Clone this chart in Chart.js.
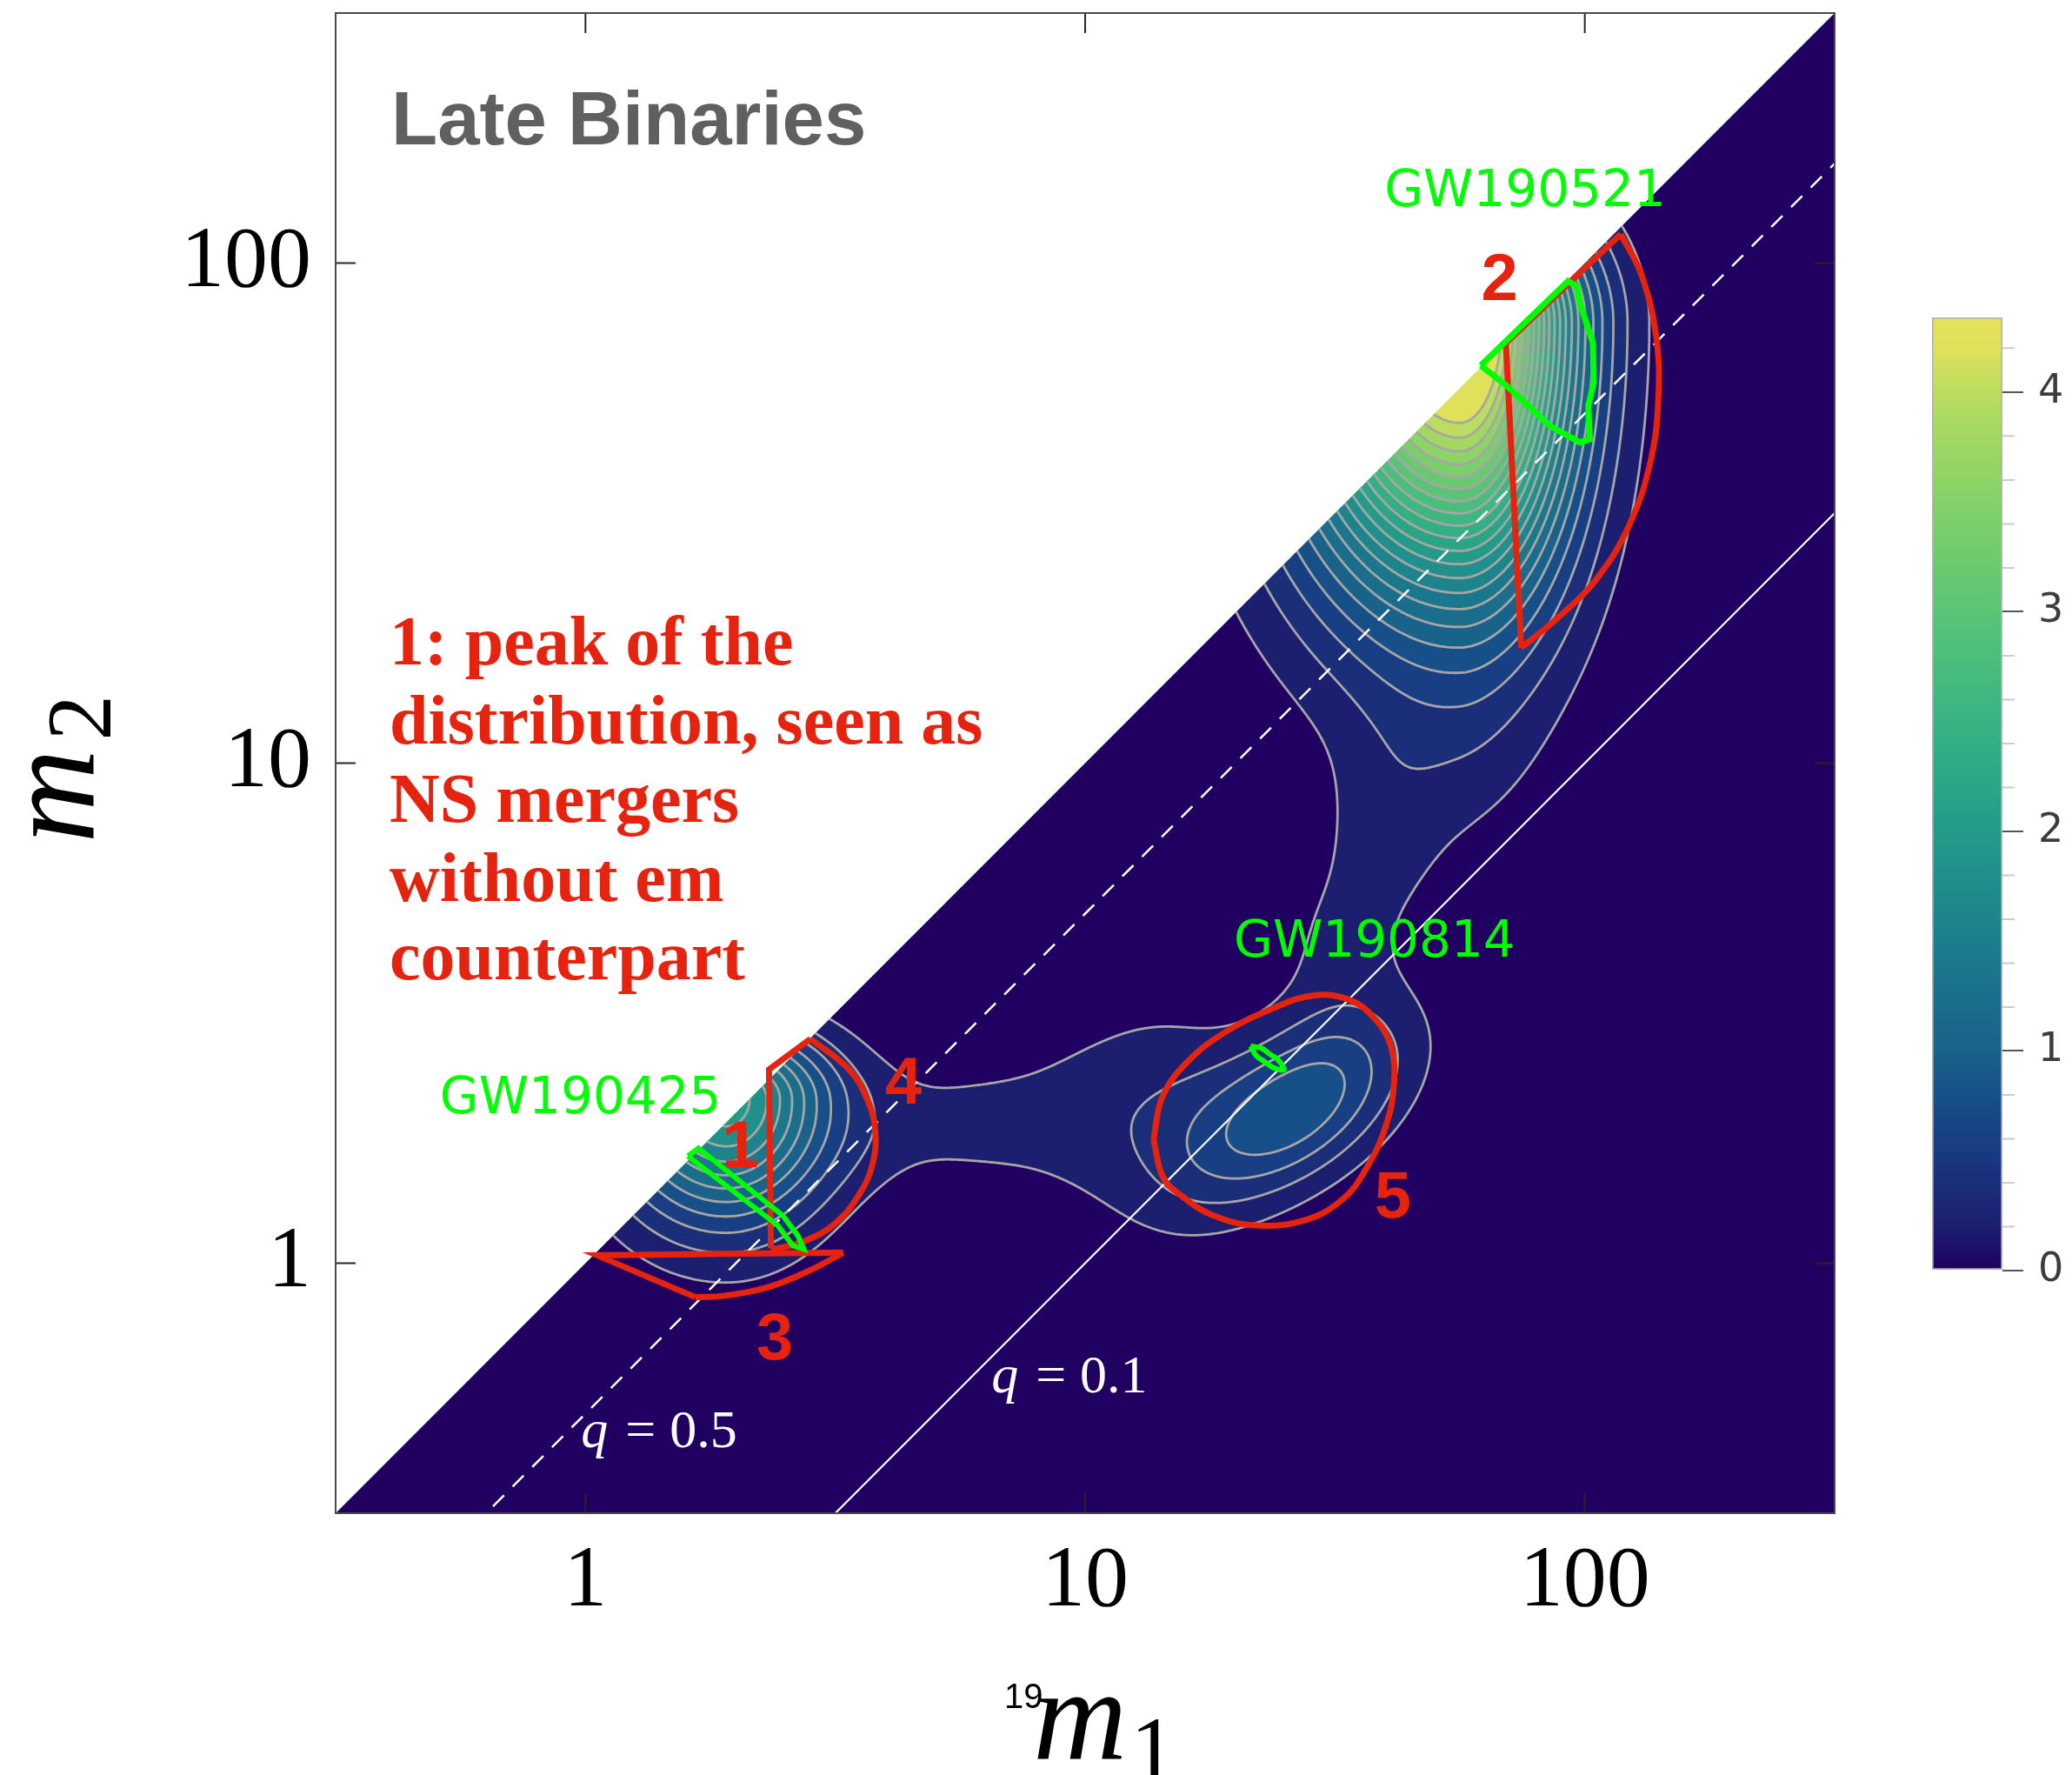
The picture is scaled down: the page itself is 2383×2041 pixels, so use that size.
<!DOCTYPE html>
<html>
<head>
<meta charset="utf-8">
<script src="https://cdn.jsdelivr.net/npm/chart.js@4.4.1/dist/chart.umd.min.js"></script>
<style>
  html, body { margin: 0; padding: 0; background: #ffffff; }
  #wrap { position: relative; width: 2383px; height: 2041px; }
  #main { position: absolute; left: 0; top: 0; width: 2383px; height: 2041px; }
  #cbar { position: absolute; left: 2150px; top: 330px; width: 233px; height: 1170px; }
</style>
</head>
<body>
<div id="wrap">
  <canvas id="main" width="2383" height="2041"></canvas>
  <canvas id="cbar" width="233" height="1170"></canvas>
</div>
<script>
// ---------------- axes (solar masses) ----------------
const massMin = 0.3162;
const massMax = 316.2;
const tickMasses = [1, 10, 100];

// ---------------- density colour scale ----------------
const contourLevels = [0.2, 0.4, 0.6, 0.8, 1.0, 1.2, 1.4, 1.6, 1.8, 2.0, 2.2, 2.4, 2.6, 2.8, 3.0, 3.2, 3.4, 3.6, 3.8, 4.0, 4.2];
const colorbarMax = 4.34;
const colorbarValues = [0, 0.2, 0.4, 0.6, 0.8, 1.0, 1.2, 1.4, 1.6, 1.8, 2.0, 2.2, 2.4, 2.6, 2.8, 3.0, 3.2, 3.4, 3.6, 3.8, 4.0, 4.2, 4.34];
const colorbarColors = ['#200060', '#1c1e70', '#1a2e7a', '#183f83', '#175088', '#19628a', '#1a6d8b', '#1b788c',
  '#1d848c', '#1f908b', '#239b89', '#2aa687', '#33af84', '#3eb780', '#4bbe7b', '#5ac476', '#6ac970', '#7bcf6b',
  '#8dd466', '#a2d862', '#bcdd5f', '#dfe15b', '#e6e35a'];
const colorbarTicks = [0, 1, 2, 3, 4];
const colorbarMinorTicks = [0.2, 0.4, 0.6, 0.8, 1.2, 1.4, 1.6, 1.8, 2.2, 2.4, 2.6, 2.8, 3.2, 3.4, 3.6, 3.8, 4.2];

// ---------------- population density ----------------
// main peaks: skewed bumps in (log m1, log m2), widths in dex
const peakHeight      = [4.9, 2.1];
const peakM1          = [56.2, 1.905];
const peakM2          = [75.9, 2.138];
const peakWidthM1Low  = [0.229, 0.155];
const peakWidthM1High = [0.150, 0.140];
const peakWidthM2Low  = [0.360, 0.170];
const peakWidthM2High = [0.148, 0.098];

// tilted bump around the mass-gap events
const tiltHeight   = [0.95];
const tiltM1       = [26.3];
const tiltM2       = [2.04];
const tiltWidthM1  = [0.15];
const tiltWidthM2  = [0.125];
const tiltCorr     = [0.5];

// low ridge joining the peaks
const ridgeM1      = [3.55, 6.03, 10.0, 15.1, 31.6, 39.8, 52.5];
const ridgeM2      = [1.86, 1.905, 1.95, 2.04, 4.17, 7.08, 10.0];
const ridgeHeight  = [0.15, 0.20, 0.20, 0.25, 0.20, 0.17, 0.12];
const ridgeWidthM1 = [0.12, 0.12, 0.12, 0.12, 0.10, 0.085, 0.12];
const ridgeWidthM2 = [0.10, 0.095, 0.14, 0.17, 0.14, 0.14, 0.15];

// ---------------- event credible regions ----------------
const gw190521M1 = [61.9, 92.5, 96.4, 97.7, 103.8, 104.2, 101.6, 102.3, 97.7, 85.3, 69.8, 61.9];
const gw190521M2 = [62.4, 92.0, 89.9, 83.2, 69.3, 57.7, 51.8, 44.4, 43.8, 47.2, 56.8, 62.4];
const gw190425M1 = [1.603, 1.683, 2.483, 2.661, 2.735, 2.600, 2.427, 1.603];
const gw190425M2 = [1.637, 1.698, 1.245, 1.135, 1.067, 1.084, 1.189, 1.637];
const gw190814M1 = [21.43, 22.54, 23.43, 24.35, 25.00, 23.77, 22.87, 22.00, 21.43];
const gw190814M2 = [2.716, 2.690, 2.618, 2.548, 2.438, 2.462, 2.530, 2.600, 2.716];

// numbered regions (straight edges and curved edges)
const region2EdgeM1 = [74.6, 69.5, 118.0];
const region2EdgeM2 = [17.0, 69.2, 114.3];
const region2ArcM1  = [118.0, 130.0, 139.0, 140.3, 135.2, 122.7, 105.4, 88.7, 74.6];
const region2ArcM2  = [114.3, 94.4, 71.0, 53.2, 39.9, 29.9, 23.3, 19.6, 17.0];
const region3EdgeM1 = [1.66, 1.054, 3.28];
const region3EdgeM2 = [0.855, 1.037, 1.05];
const region3ArcM1  = [3.28, 2.83, 2.32, 1.90, 1.66];
const region3ArcM2  = [1.05, 0.97, 0.895, 0.861, 0.855];
const region4EdgeM1 = [2.35, 2.33, 2.82];
const region4EdgeM2 = [1.07, 2.44, 2.81];
const region4ArcM1  = [2.82, 3.37, 3.66, 3.80, 3.75, 3.51, 3.16, 2.76, 2.42, 2.35];
const region4ArcM2  = [2.81, 2.44, 2.13, 1.85, 1.57, 1.36, 1.20, 1.11, 1.07, 1.07];
const region5M1 = [13.7, 14.3, 16.1, 19.1, 23.7, 28.6, 33.6, 37.8, 40.9, 41.5, 39.9, 36.3, 32.7, 27.6, 21.9, 17.9, 15.5, 14.3, 13.7];
const region5M2 = [1.77, 2.16, 2.54, 2.90, 3.23, 3.43, 3.37, 3.10, 2.72, 2.28, 1.87, 1.53, 1.34, 1.22, 1.19, 1.25, 1.37, 1.49, 1.77];

// mass-ratio guide lines
const massRatios = [0.5, 0.1];

// ---------------- helpers ----------------
const pts = (m1s, m2s) => m1s.map((m, i) => ({ x: m, y: m2s[i] }));
const hexRGB = h => [parseInt(h.slice(1, 3), 16), parseInt(h.slice(3, 5), 16), parseInt(h.slice(5, 7), 16)];
const stopRGB = colorbarColors.map(hexRGB);
function colorAt(val) {
  if (val <= colorbarValues[0]) return stopRGB[0];
  for (let k = 1; k < colorbarValues.length; k++) {
    if (val <= colorbarValues[k]) {
      const t = (val - colorbarValues[k - 1]) / (colorbarValues[k] - colorbarValues[k - 1]);
      const a = stopRGB[k - 1], b = stopRGB[k];
      return [0, 1, 2].map(c => Math.round(a[c] + t * (b[c] - a[c])));
    }
  }
  return stopRGB[stopRGB.length - 1];
}

// evaluate the density on every pixel of the plot area
function buildField(area, xs, ys) {
  const x0 = Math.floor(area.left), y0 = Math.floor(area.top);
  const W = Math.ceil(area.right) - x0, H = Math.ceil(area.bottom) - y0;
  const u = new Float64Array(W), v = new Float64Array(H);
  for (let i = 0; i < W; i++) u[i] = Math.log10(xs.getValueForPixel(x0 + i + 0.5));
  for (let j = 0; j < H; j++) v[j] = Math.log10(ys.getValueForPixel(y0 + j + 0.5));

  // separable parts: column factor * row factor * height
  const cols = [], rows = [], amps = [];
  const split = (d, lo, hi) => { const s = d < 0 ? lo : hi; return Math.exp(-0.5 * (d / s) * (d / s)); };
  peakHeight.forEach((h, k) => {
    const uc = Math.log10(peakM1[k]), vc = Math.log10(peakM2[k]);
    cols.push(Float64Array.from(u, q => split(q - uc, peakWidthM1Low[k], peakWidthM1High[k])));
    rows.push(Float64Array.from(v, q => split(q - vc, peakWidthM2Low[k], peakWidthM2High[k])));
    amps.push(h);
  });
  ridgeHeight.forEach((h, k) => {
    const uc = Math.log10(ridgeM1[k]), vc = Math.log10(ridgeM2[k]);
    cols.push(Float64Array.from(u, q => split(q - uc, ridgeWidthM1[k], ridgeWidthM1[k])));
    rows.push(Float64Array.from(v, q => split(q - vc, ridgeWidthM2[k], ridgeWidthM2[k])));
    amps.push(h);
  });
  const nSep = amps.length;
  const tilts = tiltHeight.map((h, k) => ({
    h, uc: Math.log10(tiltM1[k]), vc: Math.log10(tiltM2[k]),
    su: tiltWidthM1[k], sv: tiltWidthM2[k], r: tiltCorr[k]
  }));

  const F = new Float32Array(W * H);
  const rowAmp = new Float64Array(nSep);
  for (let j = 0; j < H; j++) {
    for (let s = 0; s < nSep; s++) rowAmp[s] = amps[s] * rows[s][j];
    const vj = v[j];
    for (let i = 0; i < W; i++) {
      let f = 0;
      for (let s = 0; s < nSep; s++) f += rowAmp[s] * cols[s][i];
      for (const t of tilts) {
        const a = (u[i] - t.uc) / t.su, b = (vj - t.vc) / t.sv;
        if (Math.abs(a) < 7 && Math.abs(b) < 7) {
          f += t.h * Math.exp(-0.5 * (a * a - 2 * t.r * a * b + b * b) / (1 - t.r * t.r));
        }
      }
      F[j * W + i] = f;
    }
  }

  // filled bands
  const bandRGB = [colorAt(0)].concat(contourLevels.map(colorAt));
  const off = document.createElement('canvas');
  off.width = W; off.height = H;
  const octx = off.getContext('2d');
  const img = octx.createImageData(W, H);
  const nL = contourLevels.length;
  for (let p = 0; p < W * H; p++) {
    const f = F[p];
    let k = 0;
    while (k < nL && f >= contourLevels[k]) k++;
    const c = bandRGB[k];
    img.data[4 * p] = c[0]; img.data[4 * p + 1] = c[1]; img.data[4 * p + 2] = c[2]; img.data[4 * p + 3] = 255;
  }
  octx.putImageData(img, 0, 0);

  // contour lines by marching squares
  const STEP = 2;
  const path = new Path2D();
  for (const L of contourLevels) {
    for (let j = 0; j + STEP < H; j += STEP) {
      const r0 = j * W, r1 = (j + STEP) * W, py = y0 + j + 0.5;
      for (let i = 0; i + STEP < W; i += STEP) {
        const A = F[r0 + i], B = F[r0 + i + STEP], C = F[r1 + i + STEP], D = F[r1 + i];
        let c = 0;
        if (A >= L) c |= 8; if (B >= L) c |= 4; if (C >= L) c |= 2; if (D >= L) c |= 1;
        if (c === 0 || c === 15) continue;
        const px = x0 + i + 0.5;
        const tX = px + STEP * (L - A) / (B - A), tY = py;
        const rX = px + STEP, rY = py + STEP * (L - B) / (C - B);
        const bX = px + STEP * (L - D) / (C - D), bY = py + STEP;
        const lX = px, lY = py + STEP * (L - A) / (D - A);
        switch (c) {
          case 1: case 14: path.moveTo(lX, lY); path.lineTo(bX, bY); break;
          case 2: case 13: path.moveTo(bX, bY); path.lineTo(rX, rY); break;
          case 3: case 12: path.moveTo(lX, lY); path.lineTo(rX, rY); break;
          case 4: case 11: path.moveTo(tX, tY); path.lineTo(rX, rY); break;
          case 6: case 9:  path.moveTo(tX, tY); path.lineTo(bX, bY); break;
          case 7: case 8:  path.moveTo(lX, lY); path.lineTo(tX, tY); break;
          case 5:  path.moveTo(lX, lY); path.lineTo(tX, tY); path.moveTo(bX, bY); path.lineTo(rX, rY); break;
          case 10: path.moveTo(tX, tY); path.lineTo(rX, rY); path.moveTo(lX, lY); path.lineTo(bX, bY); break;
        }
      }
    }
  }
  return { canvas: off, path, x0, y0 };
}

// filled contours, clipped to m2 <= m1
const densityPlugin = {
  id: 'densityField',
  beforeDatasetsDraw(chart) {
    const { ctx, chartArea, scales: { x: xs, y: ys } } = chart;
    if (!chart.$field) chart.$field = buildField(chartArea, xs, ys);
    const fld = chart.$field;
    ctx.save();
    ctx.beginPath();
    ctx.moveTo(xs.getPixelForValue(massMin), ys.getPixelForValue(massMin));
    ctx.lineTo(xs.getPixelForValue(massMax), ys.getPixelForValue(massMax));
    ctx.lineTo(xs.getPixelForValue(massMax), ys.getPixelForValue(massMin));
    ctx.closePath();
    ctx.clip();
    ctx.drawImage(fld.canvas, fld.x0, fld.y0);
    ctx.strokeStyle = '#a6a6a6';
    ctx.lineWidth = 2.8;
    ctx.lineCap = 'round';
    ctx.lineJoin = 'round';
    ctx.stroke(fld.path);
    ctx.restore();
  }
};

// text annotations placed in data coordinates
const RED = '#e6230f';
const GREEN = '#00ff00';
const eventLabels = [
  { text: 'GW190521', m1: 39.7, m2: 129.9 },
  { text: 'GW190814', m1: 19.84, m2: 4.11 },
  { text: 'GW190425', m1: 0.511, m2: 1.997 }
];
const regionLabels = [
  { text: '1', m1: 2.04, m2: 1.556 },
  { text: '2', m1: 67.5, m2: 84.2 },
  { text: '3', m1: 2.393, m2: 0.643 },
  { text: '4', m1: 4.33, m2: 2.087 },
  { text: '5', m1: 41.3, m2: 1.235 }
];
const ratioLabels = [
  { q: 0.5, m1: 0.98, m2: 0.4287 },
  { q: 0.1, m1: 6.49, m2: 0.5515 }
];
const noteLines = ['1: peak of the', 'distribution, seen as', 'NS mergers', 'without em', 'counterpart'];

const annotationPlugin = {
  id: 'annotations',
  afterDatasetsDraw(chart) {
    const { ctx, chartArea: a, scales: { x: xs, y: ys } } = chart;
    ctx.save();
    ctx.textBaseline = 'alphabetic';

    ctx.font = '58px "DejaVu Sans"';
    ctx.fillStyle = GREEN;
    ctx.textAlign = 'left';
    for (const l of eventLabels) ctx.fillText(l.text, xs.getPixelForValue(l.m1), ys.getPixelForValue(l.m2));

    ctx.font = 'bold 76px "Liberation Sans"';
    ctx.fillStyle = RED;
    ctx.textAlign = 'center';
    for (const l of regionLabels) ctx.fillText(l.text, xs.getPixelForValue(l.m1), ys.getPixelForValue(l.m2));

    ctx.textAlign = 'left';
    ctx.fillStyle = '#ffffff';
    for (const l of ratioLabels) {
      const x = xs.getPixelForValue(l.m1), y = ys.getPixelForValue(l.m2);
      ctx.font = 'italic 62px "Liberation Serif"';
      ctx.fillText('q', x, y);
      const w = ctx.measureText('q').width;
      ctx.font = '62px "Liberation Serif"';
      ctx.fillText('=', x + w + 20, y);
      const we = ctx.measureText('=').width;
      ctx.fillText(String(l.q), x + w + we + 36, y);
    }

    ctx.font = 'bold 87px "Liberation Sans"';
    ctx.fillStyle = '#606060';
    ctx.fillText('Late Binaries', a.left + 64, a.top + 151);

    ctx.font = 'bold 80px "Liberation Serif"';
    ctx.fillStyle = RED;
    noteLines.forEach((line, k) => ctx.fillText(line, a.left + 62, a.top + 749 + k * 90.5));
    ctx.restore();
  },
  afterDraw(chart) {
    const { ctx, chartArea: a, scales: { x: xs, y: ys } } = chart;
    ctx.save();
    // inward ticks on all four sides
    ctx.strokeStyle = '#262626';
    ctx.lineWidth = 2;
    ctx.beginPath();
    for (const m of tickMasses) {
      const px = xs.getPixelForValue(m), py = ys.getPixelForValue(m);
      ctx.moveTo(px, a.bottom); ctx.lineTo(px, a.bottom - 23);
      ctx.moveTo(px, a.top); ctx.lineTo(px, a.top + 23);
      ctx.moveTo(a.left, py); ctx.lineTo(a.left + 23, py);
      ctx.moveTo(a.right, py); ctx.lineTo(a.right - 23, py);
    }
    ctx.stroke();
    ctx.strokeStyle = '#4a4a4a';
    ctx.strokeRect(a.left, a.top, a.right - a.left, a.bottom - a.top);

    // axis titles
    ctx.fillStyle = '#000000';
    ctx.textBaseline = 'alphabetic';
    ctx.textAlign = 'left';
    const cx = (a.left + a.right) / 2, cy = (a.top + a.bottom) / 2;
    ctx.font = 'italic 150px "Liberation Serif"';
    ctx.fillText('m', cx - 60, 2022);
    ctx.font = '105px "Liberation Serif"';
    ctx.fillText('1', cx + 52, 2047);
    ctx.font = '40px "Liberation Sans"';
    ctx.fillText('19', cx - 93, 1964);

    ctx.translate(107, cy + 92);
    ctx.rotate(-Math.PI / 2);
    ctx.font = 'italic 150px "Liberation Serif"';
    ctx.fillText('m', 0, 0);
    ctx.font = '105px "Liberation Serif"';
    ctx.fillText('2', 118, 20);
    ctx.restore();
  }
};

const lineDs = (data, color, width, extra) => Object.assign({
  data, showLine: true, borderColor: color, backgroundColor: color, borderWidth: width,
  pointRadius: 0, pointHoverRadius: 0, tension: 0, fill: false
}, extra || {});

const qLine = q => [{ x: massMin, y: q * massMin }, { x: massMax, y: q * massMax }];

new Chart(document.getElementById('main'), {
  type: 'scatter',
  data: {
    datasets: [
      lineDs(pts(gw190521M1, gw190521M2), GREEN, 7),
      lineDs(pts(gw190425M1, gw190425M2), GREEN, 6),
      lineDs(pts(gw190814M1, gw190814M2), GREEN, 6, { tension: 0.4 }),
      lineDs(pts(region2EdgeM1, region2EdgeM2), RED, 7),
      lineDs(pts(region2ArcM1, region2ArcM2), RED, 7, { tension: 0.4 }),
      lineDs(pts(region3EdgeM1, region3EdgeM2), RED, 7),
      lineDs(pts(region3ArcM1, region3ArcM2), RED, 7, { tension: 0.4 }),
      lineDs(pts(region4EdgeM1, region4EdgeM2), RED, 7),
      lineDs(pts(region4ArcM1, region4ArcM2), RED, 7, { tension: 0.4 }),
      lineDs(pts(region5M1, region5M2), RED, 7, { tension: 0.4 }),
      lineDs(qLine(massRatios[0]), '#ffffff', 2.5, { borderDash: [18, 14] }),
      lineDs(qLine(massRatios[1]), '#ffffff', 2.2)
    ]
  },
  options: {
    responsive: false,
    animation: false,
    events: [],
    layout: { padding: { top: 15, right: 273, left: 0, bottom: 0 } },
    plugins: { legend: { display: false }, tooltip: { enabled: false } },
    scales: {
      x: {
        type: 'logarithmic', position: 'bottom', min: massMin, max: massMax, bounds: 'data',
        grid: { display: false, drawTicks: false }, border: { display: false },
        ticks: {
          autoSkip: false, maxRotation: 0, padding: 20, color: '#000000',
          font: { family: 'Liberation Serif', size: 100, lineHeight: 1.2 },
          callback: v => String(v)
        },
        afterBuildTicks: s => { s.ticks = tickMasses.map(v => ({ value: v })); },
        afterFit: s => { s.height = 301; s.paddingLeft = 0; s.paddingRight = 0; }
      },
      y: {
        type: 'logarithmic', position: 'left', min: massMin, max: massMax, bounds: 'data',
        grid: { display: false, drawTicks: false }, border: { display: false },
        ticks: {
          autoSkip: false, padding: 28, color: '#000000',
          font: { family: 'Liberation Serif', size: 100, lineHeight: 1.2 },
          callback: v => String(v)
        },
        afterBuildTicks: s => { s.ticks = tickMasses.map(v => ({ value: v })); },
        afterFit: s => { s.width = 386; s.paddingTop = 0; s.paddingBottom = 0; }
      }
    }
  },
  plugins: [densityPlugin, annotationPlugin]
});

// ---------------- colour bar ----------------
const minorTickPlugin = {
  id: 'minorTicks',
  afterDraw(chart) {
    const { ctx, chartArea: a, scales: { y } } = chart;
    ctx.save();
    ctx.strokeStyle = '#cccccc';
    ctx.lineWidth = 2;
    ctx.beginPath();
    for (const t of colorbarMinorTicks) {
      const py = y.getPixelForValue(t);
      ctx.moveTo(a.right, py); ctx.lineTo(a.right + 14, py);
    }
    ctx.stroke();
    ctx.restore();
  }
};

new Chart(document.getElementById('cbar'), {
  type: 'bar',
  data: {
    labels: [''],
    datasets: [{
      data: [[0, colorbarMax]],
      backgroundColor: c => {
        const ch = c.chart;
        if (!ch.chartArea) return colorbarColors[0];
        const y = ch.scales.y;
        const g = ch.ctx.createLinearGradient(0, y.getPixelForValue(0), 0, y.getPixelForValue(colorbarMax));
        colorbarValues.forEach((v, k) => g.addColorStop(v / colorbarMax, colorbarColors[k]));
        return g;
      },
      borderColor: '#b4b4b4',
      borderWidth: 2,
      borderSkipped: false,
      barPercentage: 1,
      categoryPercentage: 1
    }]
  },
  options: {
    responsive: false,
    animation: false,
    events: [],
    layout: { padding: { left: 72, top: 35, bottom: 39, right: 0 } },
    plugins: { legend: { display: false }, tooltip: { enabled: false } },
    scales: {
      x: { display: false },
      y: {
        position: 'right', min: 0, max: colorbarMax,
        grid: { drawOnChartArea: false, drawTicks: true, tickLength: 24, color: '#555555', lineWidth: 2 },
        border: { display: false },
        ticks: {
          stepSize: 1, includeBounds: false, padding: 17, color: '#3c3c3c',
          font: { family: 'DejaVu Sans', size: 46 },
          callback: v => colorbarTicks.includes(v) ? String(v) : ''
        },
        afterFit: s => { s.width = 80; s.paddingTop = 0; s.paddingBottom = 0; }
      }
    }
  },
  plugins: [minorTickPlugin]
});
</script>
</body>
</html>
